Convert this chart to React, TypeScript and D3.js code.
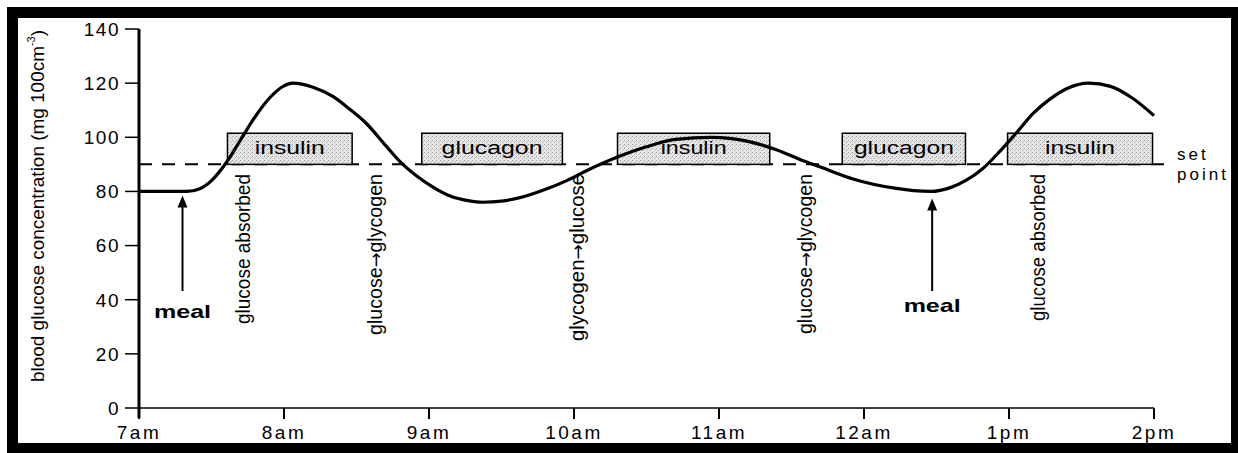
import React from 'react';
import * as d3 from 'd3';

// ---- data ----
const hours = [7, 7.2, 7.33, 7.42, 7.5, 7.6, 7.7, 7.8, 7.9, 8.0, 8.06, 8.2, 8.34, 8.45, 8.57, 8.7, 8.8, 8.92, 9.03, 9.15, 9.27, 9.37, 9.5, 9.62, 9.8, 9.95, 10.1, 10.3, 10.5, 10.7, 10.95, 11.2, 11.4, 11.55, 11.7, 11.93, 12.2, 12.46, 12.6, 12.7, 12.82, 12.94, 13.05, 13.17, 13.28, 13.4, 13.55, 13.7, 13.85, 14];
const glucose = [80, 80, 80, 81, 84, 90.5, 99, 107.5, 114.5, 119, 120, 118.5, 115, 110.5, 105, 97, 91, 85.5, 81.5, 78.2, 76.6, 76, 76.4, 77.6, 80.7, 84, 88, 92.7, 96.5, 99.2, 100, 98.5, 95.3, 92, 89, 84.5, 81.3, 80, 81.5, 84, 88.5, 95, 101.6, 109, 114, 118, 120, 118.8, 114.5, 108];

const xTickValues = [7, 8, 9, 10, 11, 12, 13, 14];
const xTickLabels = ['7am', '8am', '9am', '10am', '11am', '12am', '1pm', '2pm'];
const yTickValues = [0, 20, 40, 60, 80, 100, 120, 140];

const setPoint = 90;
const boxTop = 101.5;
const boxLabels = ['insulin', 'glucagon', 'insulin', 'glucagon', 'insulin'];
const boxStart = [7.61, 8.95, 10.3, 11.85, 12.99];
const boxEnd = [8.47, 9.92, 11.35, 12.7, 13.99];
const boxTextLen = [70, 101, 66, 100, 70];

const processFrom = ['glucose absorbed', 'glucose', 'glycogen', 'glucose', 'glucose absorbed'];
const processTo = ['', 'glycogen', 'glucose', 'glycogen', ''];
const processTimes = [7.72, 8.63, 10.02, 11.59, 13.2];
const processLen = [150, 161, 167, 160, 147];

const mealTimes = [7.3, 12.47];

export default function App() {
  const W = 1238, H = 453;
  const x = d3.scaleLinear().domain([7, 14]).range([139, 1154]);
  const y = d3.scaleLinear().domain([0, 140]).range([408, 29]);
  const pts: [number, number][] = hours.map((h, i) => [h, glucose[i]]);
  const line = d3.line<[number, number]>().x(d => x(d[0])).y(d => y(d[1])).curve(d3.curveMonotoneX);
  const font = '"Liberation Sans", Arial, sans-serif';

  return (
    <svg width={W} height={H} style={{ position: 'absolute', left: 0, top: 0 }} fontFamily={font}>
      <defs>
        <pattern id="stip" width="4" height="4" patternUnits="userSpaceOnUse">
          <rect width="4" height="4" fill="#e6e6e6" />
          <rect x="0" y="0" width="1" height="1" fill="#9a9a9a" />
          <rect x="2" y="2" width="1" height="1" fill="#b0b0b0" />
          <rect x="3" y="1" width="1" height="1" fill="#c4c4c4" />
        </pattern>
      </defs>
      {/* frame */}
      <rect x={0} y={0} width={W} height={H} fill="#fff" />
      <rect x={7} y={7} width={W - 7} height={H - 7} fill="#000" />
      <rect x={18} y={18} width={1213} height={425} fill="#fff" />

      {/* set point dashed line */}
      <line x1={x(7)} x2={1172} y1={y(setPoint)} y2={y(setPoint)} stroke="#000" strokeWidth={2} strokeDasharray="13 10" />

      {/* hormone boxes */}
      {boxLabels.map((lab, i) => (
        <g key={'b' + i}>
          <rect x={x(boxStart[i])} y={y(boxTop)} width={x(boxEnd[i]) - x(boxStart[i])} height={y(setPoint) - y(boxTop)} fill="url(#stip)" stroke="#000" strokeWidth={1.5} />
          <text x={(x(boxStart[i]) + x(boxEnd[i])) / 2} y={y(setPoint) - 10} textAnchor="middle" fontSize={18} textLength={boxTextLen[i]} lengthAdjust="spacingAndGlyphs">{lab}</text>
        </g>
      ))}

      {/* set point label */}
      <text x={1177} y={160} fontSize={17} letterSpacing={3}>set</text>
      <text x={1177} y={180} fontSize={17} letterSpacing={3}>point</text>

      {/* axes */}
      <line x1={x(7)} x2={x(14)} y1={y(0)} y2={y(0)} stroke="#000" strokeWidth={1.5} />
      {xTickValues.map((v, i) => (
        <g key={'xt' + i}>
          <line x1={x(v)} x2={x(v)} y1={y(0)} y2={y(0) + 11} stroke="#000" strokeWidth={2} />
          <text x={x(v)} y={439} textAnchor="middle" fontSize={19} letterSpacing={2.5}>{xTickLabels[i]}</text>
        </g>
      ))}
      <line x1={x(7)} x2={x(7)} y1={y(140)} y2={y(0) + 10} stroke="#000" strokeWidth={3} />
      {yTickValues.map((v, i) => (
        <g key={'yt' + i}>
          <line x1={125} x2={x(7)} y1={y(v)} y2={y(v)} stroke="#000" strokeWidth={1.5} />
          <text x={120} y={y(v)} dy="0.36em" textAnchor="end" fontSize={19} letterSpacing={1.5}>{v}</text>
        </g>
      ))}
      <text transform={`translate(37,206) rotate(-90)`} textAnchor="middle" dominantBaseline="central" fontSize={19} textLength={352} lengthAdjust="spacingAndGlyphs">
        blood glucose concentration (mg 100cm<tspan dy="-6" fontSize={11}>-3</tspan><tspan dy="6">)</tspan>
      </text>

      {/* process labels */}
      {processFrom.map((lab, i) => (
        <text key={'p' + i} transform={`translate(${x(processTimes[i])},174) rotate(-90)`} textAnchor="end" dominantBaseline="central" fontSize={20} textLength={processLen[i]} lengthAdjust="spacingAndGlyphs">
          {lab}
          {processTo[i] ? <tspan fontFamily='"DejaVu Sans", sans-serif' fontSize={18}>→</tspan> : null}
          {processTo[i] ? <tspan>{processTo[i]}</tspan> : null}
        </text>
      ))}

      {/* meal arrows */}
      {mealTimes.map((t, i) => {
        const cx = x(t);
        const tip = y(80) + 4 + i * 3;
        const bottom = 291;
        return (
          <g key={'m' + i}>
            <line x1={cx} x2={cx} y1={bottom} y2={tip + 8} stroke="#000" strokeWidth={2} />
            <path d={`M${cx},${tip} L${cx - 5},${tip + 12} L${cx + 5},${tip + 12} Z`} fill="#000" />
            <text x={cx} y={i === 0 ? 318 : 312} textAnchor="middle" fontSize={19} fontWeight="bold" textLength={57} lengthAdjust="spacingAndGlyphs">meal</text>
          </g>
        );
      })}

      {/* glucose curve */}
      <path d={line(pts) || ''} fill="none" stroke="#000" strokeWidth={3.2} strokeLinejoin="round" />
    </svg>
  );
}
